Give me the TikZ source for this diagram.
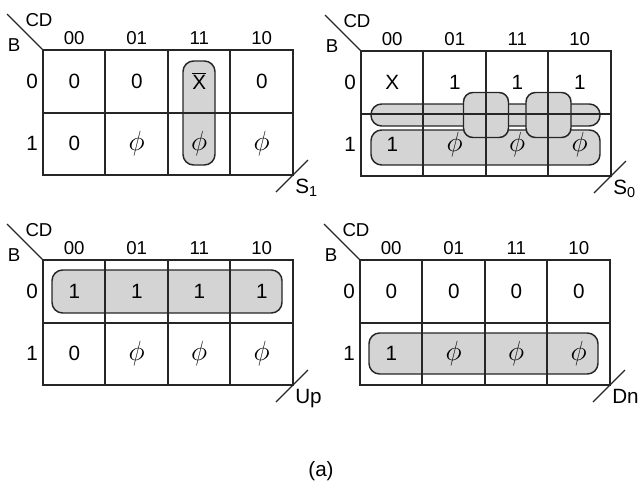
\documentclass[tikz,border=0pt]{standalone}
\usepackage{fontspec}
\setmainfont{Liberation Sans}
\newcommand{\ph}{{\fontsize{20}{22}\selectfont$\phi$}}
\newcommand{\xbar}{$\overline{\mbox{X}}$}
\newcommand{\kframe}[4]{%
  \begin{scope}[shift={(#1,#2)}]
    \coordinate (#3c) at (0,0);
    \coordinate (#3o) at (250,125);
    \draw[gridl] (#3c) rectangle (#3o);
    \draw[gridl] (0,63) -- (250,63);
    \foreach \xx in {62,125,187} \draw[gridl] (\xx,0) -- (\xx,125);
    \draw[gridl] (#3c) -- ++(-36,-36);
    \node[hdr] (#3cd) at (-4,-30) {CD};
    \node[hdr] (#3b) at (-29,-5) {B};
    \foreach \t [count=\i from 0] in {00,01,11,10}
      \node[hdr] (#3h\i) at (31.25+62.5*\i,-12) {\t};
    \node[cell] (#3r0) at (-11,31.25) {0};
    \node[cell] (#3r1) at (-11,93.75) {1};
    \draw[gridl] ($(#3o)+(-17,17)$) -- ($(#3o)+(15,-15)$);
    \node[cell, anchor=base west] (#3out) at ($(#3o)+(2,18)$) {#4};
  \end{scope}}
\newcommand{\krow}[4]{%
  \begin{scope}[shift={(#1,#2)}]
    \foreach \t [count=\i from 0] in {#4}
      \node[cell] (#3\i) at (31.25+62.5*\i,31.25) {\t};
  \end{scope}}
\usetikzlibrary{calc}
\begin{document}
\begin{tikzpicture}[x=0.75pt,y=-0.75pt,
  gridl/.style={draw=black!85, line width=1pt},
  grp/.style={draw=black!85, line width=1.1pt, fill=black!17},
  cell/.style={font=\fontsize{15.5}{17}\selectfont, inner sep=0pt},
  hdr/.style={font=\fontsize{14}{16}\selectfont, inner sep=0pt},
]
\useasboundingbox (0,0) rectangle (640,483);

% groups (behind grid)
% S1
\draw[grp, rounded corners=8pt] (183,61) rectangle (215,165);
% S0
\draw[grp, rounded corners=8pt] (371,130) rectangle (600,165);
\draw[grp, rounded corners=8pt] (371,104) rectangle (600,126);
\draw[grp, rounded corners=7pt] (463.5,92.5) rectangle (508.5,137.5);
\draw[grp, rounded corners=7pt] (526,92.5) rectangle (571,137.5);
% Up
\draw[grp, rounded corners=8pt] (52,270) rectangle (282,313);
% Dn
\draw[grp, rounded corners=8pt] (369,333) rectangle (598,374);

% maps
\kframe{43}{50}{a}{S\textsubscript{1}}
\krow{43}{50}{aa}{0,0,\xbar,0}
\krow{43}{112.5}{ab}{0,\ph,\ph,\ph}

\kframe{361}{51}{b}{S\textsubscript{0}}
\krow{361}{51}{ba}{X,1,1,1}
\krow{361}{113.5}{bb}{1,\ph,\ph,\ph}

\kframe{43}{260}{c}{Up}
\krow{43}{260}{ca}{1,1,1,1}
\krow{43}{322.5}{cb}{0,\ph,\ph,\ph}

\kframe{360}{260}{d}{Dn}
\krow{360}{260}{da}{0,0,0,0}
\krow{360}{322.5}{db}{1,\ph,\ph,\ph}

\node[cell] (cap) at (321,471) {(a)};
\end{tikzpicture}
\end{document}
